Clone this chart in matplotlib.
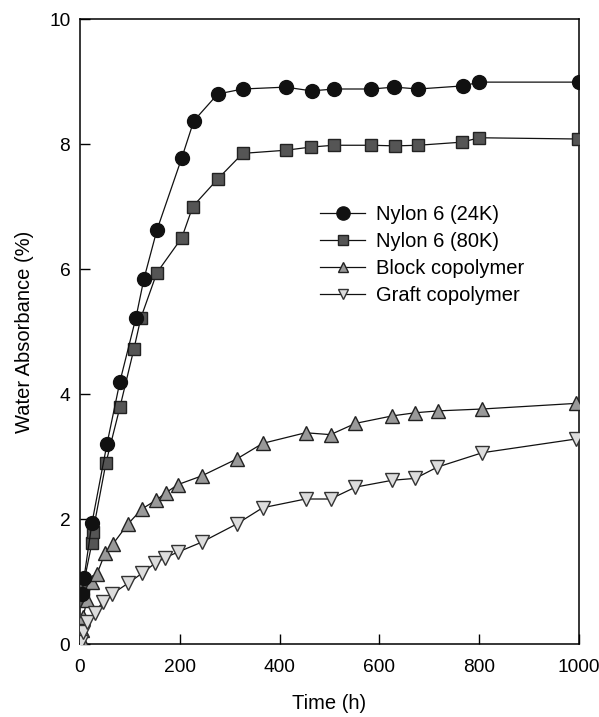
import matplotlib
matplotlib.use("Agg")
import matplotlib.pyplot as plt

plt.rcParams['font.family'] = ['Liberation Sans', 'DejaVu Sans']

# Nylon 6 (24K)
t24 = [4, 8, 24, 54, 80, 112, 128, 154, 204, 228, 276, 326, 412, 464, 510, 584, 630, 678, 768, 800, 1000]
y24 = [0.8, 1.06, 1.94, 3.2, 4.2, 5.22, 5.84, 6.62, 7.78, 8.37, 8.8, 8.88, 8.91, 8.85, 8.88, 8.88, 8.91, 8.88, 8.93, 8.99, 8.99]

# Nylon 6 (80K)
t80 = [4, 6, 8, 24, 26, 52, 80, 108, 122, 154, 204, 226, 276, 326, 412, 462, 508, 584, 632, 678, 766, 800, 998]
y80 = [0.7, 0.85, 1.0, 1.62, 1.8, 2.9, 3.79, 4.72, 5.22, 5.94, 6.5, 7.0, 7.44, 7.85, 7.9, 7.95, 7.98, 7.98, 7.97, 7.98, 8.03, 8.1, 8.08]

# Block copolymer
tb = [2, 4, 6, 14, 24, 34, 50, 66, 96, 124, 152, 172, 196, 244, 314, 366, 452, 502, 552, 626, 672, 718, 806, 994]
yb = [0.08, 0.22, 0.43, 0.7, 1.0, 1.12, 1.45, 1.6, 1.92, 2.16, 2.3, 2.42, 2.55, 2.69, 2.96, 3.21, 3.38, 3.35, 3.53, 3.65, 3.7, 3.73, 3.76, 3.85]

# Graft copolymer
tg = [2, 6, 14, 30, 46, 64, 96, 124, 150, 170, 196, 244, 314, 366, 452, 502, 552, 626, 672, 716, 806, 994]
yg = [0.03, 0.19, 0.35, 0.5, 0.68, 0.8, 0.97, 1.13, 1.29, 1.38, 1.47, 1.63, 1.92, 2.18, 2.32, 2.32, 2.51, 2.62, 2.65, 2.83, 3.06, 3.28]

labels = ["Nylon 6 (24K)", "Nylon 6 (80K)", "Block copolymer", "Graft copolymer"]
xticks = [0, 200, 400, 600, 800, 1000]
yticks = [0, 2, 4, 6, 8, 10]

fs = 14.5
tfs = 13.8
fig = plt.figure(figsize=(5.99, 7.17), dpi=100)
ax = fig.add_axes([0.1336, 0.1018, 0.8330, 0.8717])

lw = 0.9
ax.plot(t24, y24, '-', color='#111111', lw=lw, marker='o', ms=10,
        mfc='#111111', mec='#111111', label=labels[0], zorder=4)
ax.plot(t80, y80, '-', color='#111111', lw=lw, marker='s', ms=8,
        mfc='#555555', mec='#222222', mew=1.0, label=labels[1], zorder=3)
ax.plot(tb, yb, '-', color='#111111', lw=lw, marker='^', ms=10,
        mfc='#999999', mec='#222222', mew=1.0, label=labels[2], zorder=3)
ax.plot(tg, yg, '-', color='#111111', lw=lw, marker='v', ms=10,
        mfc='#dddddd', mec='#333333', mew=1.0, label=labels[3], zorder=3)

ax.set_xlim(0, 1000)
ax.set_ylim(0, 10)
ax.set_xticks(xticks)
ax.set_yticks(yticks)
ax.tick_params(direction='in', length=7, width=1, labelsize=tfs)
ax.tick_params(axis='x', pad=11)
ax.tick_params(axis='y', pad=7)
for s in ax.spines.values():
    s.set_linewidth(1.1)

ax.set_xlabel("Time (h)", fontsize=fs, labelpad=13)
ax.set_ylabel("Water Absorbance (%)", fontsize=fs, labelpad=11)

leg = ax.legend(loc='upper left', bbox_to_anchor=(0.465, 0.716), frameon=False,
                fontsize=fs, handlelength=2.23, handletextpad=0.55, labelspacing=0.40,
                borderaxespad=0)
for h, ms in zip(leg.legend_handles, [9.5, 6.5, 7, 7.5]):
    h.set_markersize(ms)

fig.savefig("out.png", dpi=100)
